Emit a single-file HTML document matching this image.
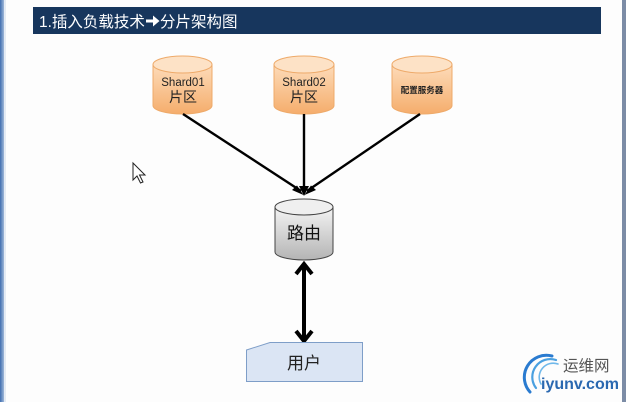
<!DOCTYPE html>
<html><head><meta charset="utf-8"><style>
html,body{margin:0;padding:0;background:#fdfdfd;}
body{width:626px;height:402px;overflow:hidden;position:relative;font-family:"Liberation Sans","Noto Sans CJK SC",sans-serif;}
svg{position:absolute;left:0;top:0;}
</style></head><body>
<svg width="626" height="402" viewBox="0 0 626 402" xmlns="http://www.w3.org/2000/svg">
<defs>
<linearGradient id="org" x1="0" y1="0" x2="0" y2="1">
<stop offset="0" stop-color="#fddcba"/><stop offset="1" stop-color="#f5ad6c"/>
</linearGradient>
<linearGradient id="gry" x1="0" y1="0" x2="0" y2="1">
<stop offset="0" stop-color="#f4f4f4"/><stop offset="1" stop-color="#b4b4b4"/>
</linearGradient>
<linearGradient id="lft" x1="0" y1="0" x2="1" y2="0">
<stop offset="0" stop-color="#3f6eb0"/><stop offset="1" stop-color="#9fb7d8"/>
</linearGradient>
</defs>
<rect x="0" y="0" width="626" height="402" fill="#fdfdfd"/>
<rect x="0" y="0" width="4" height="402" fill="url(#lft)"/>
<rect x="4" y="0" width="2" height="402" fill="#e4ebf4"/>
<rect x="622" y="0" width="4" height="402" fill="#7c8ca6"/>
<!-- title -->
<rect x="33" y="7" width="568" height="27" fill="#17365d"/>
<text x="39" y="27" fill="#ffffff" font-size="15.5" font-family="Liberation Sans,Noto Sans CJK SC,sans-serif">1.插入负载技术</text>
<path d="M146,19.5 L153,19.5 L153,15.5 L159.5,21 L153,26.5 L153,22.5 L146,22.5 Z" fill="#ffffff"/>
<text x="160" y="27" fill="#ffffff" font-size="15.5" font-family="Liberation Sans,Noto Sans CJK SC,sans-serif">分片架构图</text>

<!-- cylinders orange -->
<g stroke="#eeaa6a" stroke-width="1">
<path d="M153,64.5 L153,105.5 A29.5,8.5 0 0 0 212,105.5 L212,64.5 Z" fill="url(#org)"/>
<ellipse cx="182.5" cy="64.5" rx="29.5" ry="8.5" fill="#fde2c6"/>
<path d="M274,64.5 L274,105.5 A30,8.5 0 0 0 334,105.5 L334,64.5 Z" fill="url(#org)"/>
<ellipse cx="304" cy="64.5" rx="30" ry="8.5" fill="#fde2c6"/>
<path d="M392,64.5 L392,105.5 A30,8.5 0 0 0 452,105.5 L452,64.5 Z" fill="url(#org)"/>
<ellipse cx="422" cy="64.5" rx="30" ry="8.5" fill="#fde2c6"/>
</g>
<g fill="#222" text-anchor="middle">
<text x="183" y="86" font-size="11.5">Shard01</text>
<text x="183" y="102" font-size="14">片区</text>
<text x="304" y="86" font-size="11.5">Shard02</text>
<text x="304" y="102" font-size="14">片区</text>
<text x="422" y="93" font-size="8.5" font-weight="bold">配置服务器</text>
</g>

<!-- connectors -->
<g stroke="#000" stroke-width="2.4" fill="none">
<line x1="183" y1="114" x2="301" y2="191"/>
<line x1="304" y1="114" x2="304" y2="190"/>
<line x1="420" y1="114" x2="307" y2="191"/>
</g>
<g fill="#000">
<polygon points="303.5,195 292,190 297,185.5"/>
<polygon points="304,196 299,186 309,186"/>
<polygon points="304.5,195 311,185.5 316,190"/>
</g>

<!-- router -->
<path d="M275,207 L275,252 A29,8 0 0 0 333,252 L333,207 Z" fill="url(#gry)" stroke="#444" stroke-width="1"/>
<ellipse cx="304" cy="207" rx="29" ry="8" fill="#efefef" stroke="#444" stroke-width="1"/>
<text x="304" y="239" font-size="17" text-anchor="middle" fill="#111">路由</text>

<!-- double arrow -->
<line x1="304" y1="264" x2="304" y2="341" stroke="#000" stroke-width="4"/>
<polyline points="296,274 304,264 312,274" stroke="#000" stroke-width="4" fill="none" stroke-linejoin="miter"/>
<polyline points="296,331 304,341 312,331" stroke="#000" stroke-width="4" fill="none" stroke-linejoin="miter"/>

<!-- user -->
<path d="M246.5,350 L270,342.5 L362.5,342.5 L362.5,381.5 L246.5,381.5 Z" fill="#dbe5f4" stroke="#7e9ec8" stroke-width="1"/>
<text x="304" y="369" font-size="17" text-anchor="middle" fill="#222">用户</text>

<!-- cursor -->
<path d="M133,163 L133,180 L137,176 L140.5,183 L143,182 L139.5,175 L145,175 Z" fill="#fff" stroke="#222" stroke-width="1"/>

<!-- watermark -->
<g fill="none" stroke="#2a7bd0" stroke-linecap="round">
<path d="M552,356 A22,22 0 0 0 530,392" stroke-width="3"/>
<path d="M556,360 A18,18 0 0 0 536,388" stroke-width="2.2" stroke="#4aa0e0"/>
<path d="M558,364 A14,14 0 0 0 541,384" stroke-width="1.6" stroke="#6fb8ea"/>
</g>
<text x="563" y="371" font-size="15.5" fill="#555">运维网</text>
<text x="541" y="389" font-size="16" font-weight="bold" fill="#2a68b0">iyunv.com</text>
</svg>
</body></html>
